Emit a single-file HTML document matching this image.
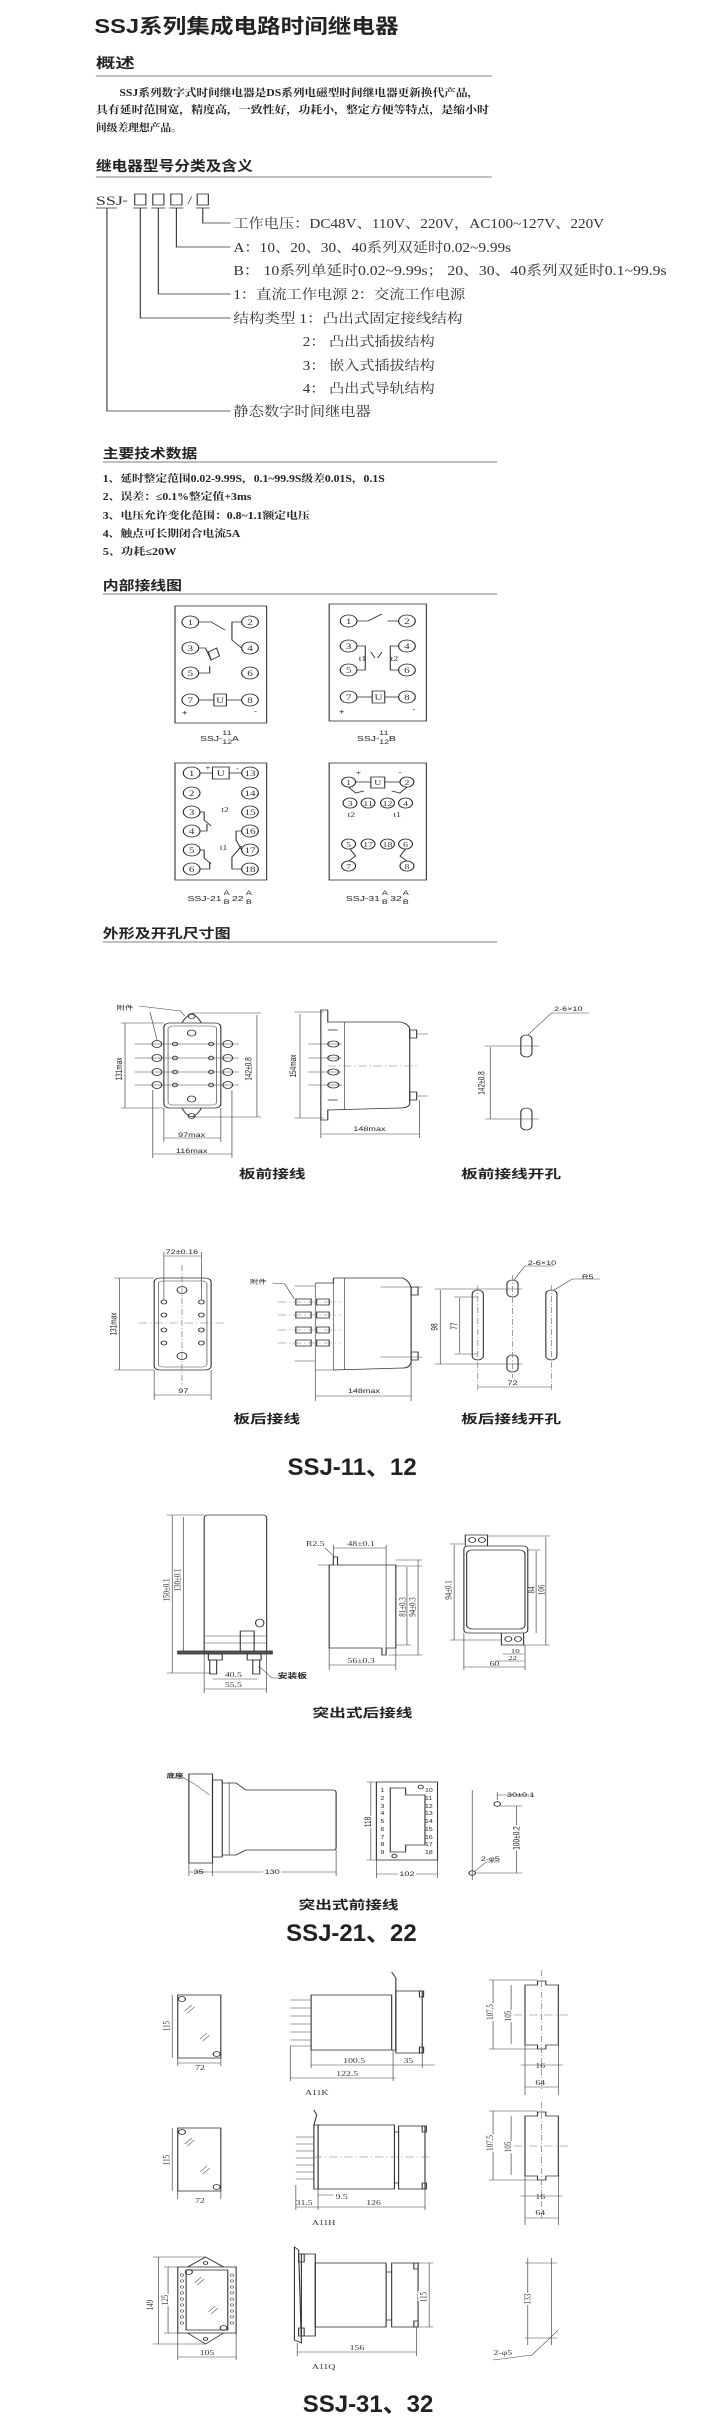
<!DOCTYPE html>
<html><head><meta charset="utf-8"><style>
html,body{margin:0;padding:0;background:#fff;}
svg{display:block;}
.h{font-family:"Liberation Sans","Noto Sans CJK SC",sans-serif;font-weight:bold;fill:#222;}
.s{font-family:"Liberation Serif","Noto Serif CJK SC",serif;fill:#333;}
.sb{font-family:"Liberation Serif","Noto Serif CJK SC",serif;font-weight:bold;fill:#222;}
.d{font-family:"Liberation Sans","Noto Sans CJK SC",sans-serif;fill:#222;}
.ln{stroke:#333;stroke-width:0.8;fill:none;}
.lt{stroke:#444;stroke-width:0.5;fill:none;}
.c{stroke:#222;stroke-width:0.8;fill:#fff;}
.cd{stroke:#777;stroke-width:0.5;fill:none;stroke-dasharray:6 2 1 2;}
</style></head><body>
<svg width="720" height="2433" viewBox="0 0 518.4 2433" preserveAspectRatio="none" xmlns="http://www.w3.org/2000/svg">
<!-- Title -->
<text class="h" x="68" y="33" font-size="20" textLength="219" lengthAdjust="spacingAndGlyphs">SSJ系列集成电路时间继电器</text>

<!-- 概述 -->
<text class="h" x="69" y="68" font-size="14">概述</text>
<line x1="69" y1="76" x2="354" y2="76" stroke="#999" stroke-width="1.2"/>
<text class="sb" x="86" y="96" font-size="10.5" textLength="259" lengthAdjust="spacingAndGlyphs">SSJ系列数字式时间继电器是DS系列电磁型时间继电器更新换代产品，</text>
<text class="sb" x="69" y="113" font-size="10.5" textLength="283" lengthAdjust="spacingAndGlyphs">具有延时范围宽，精度高，一致性好，功耗小，整定方便等特点，是缩小时</text>
<text class="sb" x="69" y="131" font-size="10.5" textLength="62" lengthAdjust="spacingAndGlyphs">间级差理想产品。</text>

<!-- 型号 -->
<text class="h" x="69" y="171" font-size="14" textLength="113" lengthAdjust="spacingAndGlyphs">继电器型号分类及含义</text>
<line x1="69" y1="177" x2="354" y2="177" stroke="#999" stroke-width="1.2"/>
<text class="s" x="69" y="205" font-size="13">SSJ</text>
<text class="s" x="88" y="204" font-size="12">-</text>
<g class="ln">
<rect x="97" y="194" width="8" height="11"/><rect x="110" y="194" width="8" height="11"/><rect x="123" y="194" width="8" height="11"/><rect x="142" y="194" width="8" height="11"/>
<line x1="69" y1="208" x2="84" y2="208"/><line x1="96" y1="208" x2="106" y2="208"/><line x1="109" y1="208" x2="119" y2="208"/><line x1="122" y1="208" x2="132" y2="208"/><line x1="141" y1="208" x2="151" y2="208"/>
<polyline points="77,208 77,411 166,411"/>
<polyline points="101,208 101,318 166,318"/>
<polyline points="114,208 114,294 166,294"/>
<polyline points="127,208 127,247 166,247"/>
<polyline points="146,208 146,223 166,223"/>
</g>
<text class="s" x="135" y="204" font-size="12">/</text>
<g class="s" font-size="13.5">
<text x="168" y="228" textLength="267" lengthAdjust="spacingAndGlyphs">工作电压：DC48V、110V、220V，AC100~127V、220V</text>
<text x="168" y="252" textLength="200" lengthAdjust="spacingAndGlyphs">A：10、20、30、40系列双延时0.02~9.99s</text>
<text x="168" y="275" textLength="312" lengthAdjust="spacingAndGlyphs">B： 10系列单延时0.02~9.99s； 20、30、40系列双延时0.1~99.9s</text>
<text x="168" y="299" textLength="167" lengthAdjust="spacingAndGlyphs">1：直流工作电源 2：交流工作电源</text>
<text x="168" y="323" textLength="165" lengthAdjust="spacingAndGlyphs">结构类型 1：凸出式固定接线结构</text>
<text x="218" y="346" textLength="95" lengthAdjust="spacingAndGlyphs">2： 凸出式插拔结构</text>
<text x="218" y="370" textLength="95" lengthAdjust="spacingAndGlyphs">3： 嵌入式插拔结构</text>
<text x="218" y="393" textLength="95" lengthAdjust="spacingAndGlyphs">4： 凸出式导轨结构</text>
<text x="168" y="416" textLength="99" lengthAdjust="spacingAndGlyphs">静态数字时间继电器</text>
</g>

<!-- 主要技术数据 -->
<text class="h" x="74" y="458" font-size="13" textLength="68" lengthAdjust="spacingAndGlyphs">主要技术数据</text>
<line x1="74" y1="462" x2="358" y2="462" stroke="#999" stroke-width="1.2"/>
<g class="sb" font-size="10">
<text x="74" y="482" textLength="203" lengthAdjust="spacingAndGlyphs">1、延时整定范围0.02-9.99S，0.1~99.9S级差0.01S，0.1S</text>
<text x="74" y="500" textLength="107" lengthAdjust="spacingAndGlyphs">2、误差：≤0.1%整定值+3ms</text>
<text x="74" y="519" textLength="149" lengthAdjust="spacingAndGlyphs">3、电压允许变化范围：0.8~1.1额定电压</text>
<text x="74" y="537" textLength="99" lengthAdjust="spacingAndGlyphs">4、触点可长期闭合电流5A</text>
<text x="74" y="555" textLength="53" lengthAdjust="spacingAndGlyphs">5、功耗≤20W</text>
</g>

<!-- 内部接线图 -->
<text class="h" x="74" y="590" font-size="13" textLength="57" lengthAdjust="spacingAndGlyphs">内部接线图</text>
<line x1="74" y1="594" x2="358" y2="594" stroke="#999" stroke-width="1.2"/>

<!-- Box1 -->
<g>
<rect x="126" y="606" width="66" height="117" class="ln"/>
<g class="ln">
<polyline points="143,622 152,622 162,630"/>
<polyline points="174,622 167,622 167,640 174,648"/>
<polyline points="143,648 148,648 152,660"/>
<path d="M150,652 l6,-4 l2,8 l-6,4z"/>
<polyline points="143,673 151,673 151,666"/>
<line x1="143" y1="700" x2="154" y2="700"/><line x1="163" y1="700" x2="174" y2="700"/>
<rect x="154" y="694" width="9" height="12"/>
</g>
<g class="c"><circle cx="137" cy="622" r="6"/><circle cx="180" cy="622" r="6"/><circle cx="137" cy="648" r="6"/><circle cx="180" cy="648" r="6"/><circle cx="137" cy="673" r="6"/><circle cx="180" cy="673" r="6"/><circle cx="137" cy="700" r="6"/><circle cx="180" cy="700" r="6"/></g>
<g class="s" font-size="8" text-anchor="middle"><text x="137" y="625">1</text><text x="180" y="625">2</text><text x="137" y="651">3</text><text x="180" y="651">4</text><text x="137" y="676">5</text><text x="180" y="676">6</text><text x="137" y="703">7</text><text x="180" y="703">8</text><text x="158.5" y="703">U</text></g>
<text class="d" x="133" y="715" font-size="7" text-anchor="middle">+</text><text class="d" x="184" y="714" font-size="7" text-anchor="middle">-</text>
</g>
<text class="d" x="144" y="741" font-size="7.5">SSJ-</text><text class="d" x="160" y="735" font-size="6.5">11</text><text class="d" x="160" y="744" font-size="6.5">12</text><text class="d" x="167" y="741" font-size="7.5">A</text>

<!-- Box2 -->
<g>
<rect x="237" y="604" width="70" height="117" class="ln"/>
<g class="ln">
<polyline points="257,621 265,621 275,614"/>
<line x1="279" y1="621" x2="287" y2="621"/>
<polyline points="257,646 263,646 263,670 257,670"/>
<polyline points="287,646 281,646 281,670 287,670"/>
<path d="M267,652 l3,6 M275,652 l-3,6"/>
<line x1="257" y1="697" x2="268" y2="697"/><line x1="277" y1="697" x2="287" y2="697"/>
<rect x="268" y="691" width="9" height="12"/>
</g>
<g class="c"><circle cx="251" cy="621" r="6"/><circle cx="293" cy="621" r="6"/><circle cx="251" cy="646" r="6"/><circle cx="293" cy="646" r="6"/><circle cx="251" cy="670" r="6"/><circle cx="293" cy="670" r="6"/><circle cx="251" cy="697" r="6"/><circle cx="293" cy="697" r="6"/></g>
<g class="s" font-size="8" text-anchor="middle"><text x="251" y="624">1</text><text x="293" y="624">2</text><text x="251" y="649">3</text><text x="293" y="649">4</text><text x="251" y="673">5</text><text x="293" y="673">6</text><text x="251" y="700">7</text><text x="293" y="700">8</text><text x="272.5" y="700">U</text>
<text x="261" y="661" font-size="7">t1</text><text x="284" y="661" font-size="7">t2</text></g>
<text class="d" x="246" y="714" font-size="7" text-anchor="middle">+</text><text class="d" x="298" y="712" font-size="7" text-anchor="middle">-</text>
</g>
<text class="d" x="257" y="741" font-size="7.5">SSJ-</text><text class="d" x="273" y="735" font-size="6.5">11</text><text class="d" x="273" y="744" font-size="6.5">12</text><text class="d" x="280" y="741" font-size="7.5">B</text>

<!-- Box3 -->
<g>
<rect x="126" y="763" width="66" height="117" class="ln"/>
<g class="ln">
<line x1="144" y1="773" x2="153" y2="773"/><line x1="165" y1="773" x2="174" y2="773"/>
<rect x="153" y="767" width="12" height="12"/>
<polyline points="144,812 147,812 147,820 152,826"/>
<polyline points="144,831 149,831 149,824"/>
<polyline points="144,850 147,850 147,858 152,864"/>
<polyline points="144,869 151,869 151,862"/>
<polyline points="174,831 170,831 170,840 174,850"/>
<polyline points="174,869 167,869 167,857 174,846"/>
</g>
<g class="c">
<circle cx="138" cy="773" r="6"/><circle cx="138" cy="793" r="6"/><circle cx="138" cy="812" r="6"/><circle cx="138" cy="831" r="6"/><circle cx="138" cy="850" r="6"/><circle cx="138" cy="869" r="6"/>
<circle cx="180" cy="773" r="6"/><circle cx="180" cy="793" r="6"/><circle cx="180" cy="812" r="6"/><circle cx="180" cy="831" r="6"/><circle cx="180" cy="850" r="6"/><circle cx="180" cy="869" r="6"/></g>
<g class="s" font-size="8" text-anchor="middle">
<text x="138" y="776">1</text><text x="138" y="796">2</text><text x="138" y="815">3</text><text x="138" y="834">4</text><text x="138" y="853">5</text><text x="138" y="872">6</text>
<text x="180" y="776">13</text><text x="180" y="796">14</text><text x="180" y="815">15</text><text x="180" y="834">16</text><text x="180" y="853">17</text><text x="180" y="872">18</text>
<text x="159" y="776">U</text><text x="162" y="812" font-size="7">t2</text><text x="161" y="850" font-size="7">t1</text></g>
<text class="d" x="148" y="770" font-size="6">+</text><text class="d" x="170" y="770" font-size="6">-</text>
</g>
<text class="d" x="135" y="901" font-size="7.5">SSJ-21</text><text class="d" x="161" y="895" font-size="6.5">A</text><text class="d" x="161" y="904" font-size="6.5">B</text><text class="d" x="167" y="901" font-size="7.5">22</text><text class="d" x="177" y="895" font-size="6.5">A</text><text class="d" x="177" y="904" font-size="6.5">B</text>

<!-- Box4 -->
<g>
<rect x="237" y="763" width="70" height="117" class="ln"/>
<g class="ln">
<line x1="256" y1="782" x2="267" y2="782"/><line x1="277" y1="782" x2="288" y2="782"/>
<rect x="267" y="777" width="10" height="11"/>
<polyline points="251,787 256,793 262,791"/><polyline points="293,787 288,793 282,791"/>
<polyline points="252,849 256,856 251,861"/><polyline points="292,849 288,856 293,861"/>
</g>
<g class="c">
<circle cx="251" cy="782" r="5"/><circle cx="293" cy="782" r="5"/>
<circle cx="252" cy="803" r="5"/><circle cx="265" cy="803" r="5"/><circle cx="279" cy="803" r="5"/><circle cx="292" cy="803" r="5"/>
<circle cx="251" cy="844" r="5"/><circle cx="265" cy="844" r="5"/><circle cx="279" cy="844" r="5"/><circle cx="292" cy="844" r="5"/>
<circle cx="251" cy="866" r="5"/><circle cx="293" cy="866" r="5"/></g>
<g class="s" font-size="7" text-anchor="middle">
<text x="251" y="785">1</text><text x="293" y="785">2</text><text x="272" y="785">U</text>
<text x="252" y="806">3</text><text x="265" y="806">11</text><text x="279" y="806">12</text><text x="292" y="806">4</text>
<text x="251" y="847">5</text><text x="265" y="847">17</text><text x="279" y="847">18</text><text x="292" y="847">6</text>
<text x="251" y="869">7</text><text x="293" y="869">8</text>
<text x="253" y="817">t2</text><text x="286" y="817">t1</text></g>
<text class="d" x="258" y="775" font-size="6.5" text-anchor="middle">+</text><text class="d" x="288" y="774" font-size="6.5" text-anchor="middle">-</text>
</g>
<text class="d" x="249" y="901" font-size="7.5">SSJ-31</text><text class="d" x="275" y="895" font-size="6.5">A</text><text class="d" x="275" y="904" font-size="6.5">B</text><text class="d" x="281" y="901" font-size="7.5">32</text><text class="d" x="290" y="895" font-size="6.5">A</text><text class="d" x="290" y="904" font-size="6.5">B</text>

<!-- 外形及开孔尺寸图 -->
<text class="h" x="74" y="938" font-size="13" textLength="92" lengthAdjust="spacingAndGlyphs">外形及开孔尺寸图</text>
<line x1="74" y1="942" x2="358" y2="942" stroke="#999" stroke-width="1.2"/>

<!-- 板前接线 front -->
<g class="ln">
<path d="M131,1023 Q138,1006 145,1023 M131,1108 Q138,1125 145,1108"/>
<circle cx="138" cy="1016" r="2.5"/><circle cx="138" cy="1116" r="2.5"/>
<rect x="118" y="1023" width="41" height="85" rx="4"/>
<rect x="121" y="1026" width="35" height="79" rx="3" class="lt"/>
<circle cx="138" cy="1033" r="3"/><circle cx="138" cy="1099" r="3"/>
<g class="lt">
<line x1="97" y1="1044" x2="172" y2="1044"/><line x1="97" y1="1058" x2="172" y2="1058"/><line x1="97" y1="1072" x2="172" y2="1072"/><line x1="97" y1="1085" x2="172" y2="1085"/>
</g>
<circle cx="113" cy="1044" r="3.5"/><circle cx="113" cy="1058" r="3.5"/><circle cx="113" cy="1072" r="3.5"/><circle cx="113" cy="1085" r="3.5"/>
<circle cx="164" cy="1044" r="3.5"/><circle cx="164" cy="1058" r="3.5"/><circle cx="164" cy="1072" r="3.5"/><circle cx="164" cy="1085" r="3.5"/>
<circle cx="126" cy="1044" r="1.8"/><circle cx="126" cy="1058" r="1.8"/><circle cx="126" cy="1072" r="1.8"/><circle cx="126" cy="1085" r="1.8"/>
<circle cx="152" cy="1044" r="1.8"/><circle cx="152" cy="1058" r="1.8"/><circle cx="152" cy="1072" r="1.8"/><circle cx="152" cy="1085" r="1.8"/>
<g class="lt">
<line x1="90" y1="1023" x2="90" y2="1108"/><line x1="87" y1="1023" x2="118" y2="1023"/><line x1="87" y1="1108" x2="118" y2="1108"/>
<line x1="185" y1="1015" x2="185" y2="1117"/><line x1="138" y1="1013" x2="188" y2="1013"/><line x1="138" y1="1117" x2="188" y2="1117"/>
<line x1="118" y1="1108" x2="118" y2="1142"/><line x1="159" y1="1108" x2="159" y2="1142"/><line x1="118" y1="1138" x2="159" y2="1138"/>
<line x1="110" y1="1090" x2="110" y2="1158"/><line x1="167" y1="1090" x2="167" y2="1158"/><line x1="110" y1="1154" x2="167" y2="1154"/>
<polyline points="108,1012 113,1040"/><polyline points="100,1006 130,1011 133,1016"/>
</g></g>
<text class="d" x="84" y="1010" font-size="6">附件</text>
<text class="d" font-size="6.5" transform="translate(88,1069) rotate(-90)" text-anchor="middle">131max</text>
<text class="d" font-size="6.5" transform="translate(181,1069) rotate(-90)" text-anchor="middle">142±0.8</text>
<text class="d" x="138" y="1137" font-size="6.5" text-anchor="middle">97max</text>
<text class="d" x="138" y="1153" font-size="6.5" text-anchor="middle">116max</text>

<!-- 板前 side -->
<g class="ln">
<path d="M231,1010 L236,1010 L236,1022 L288,1022 Q295,1024 295,1030 L295,1104 Q294,1108 288,1108 L236,1110 L236,1120 L231,1120 Z"/>
<line x1="236" y1="1030" x2="243" y2="1030"/><line x1="236" y1="1100" x2="243" y2="1100"/>
<line x1="248" y1="1022" x2="248" y2="1110" class="lt"/>
<rect x="295" y="1030" width="5" height="8"/><rect x="295" y="1092" width="5" height="8"/>
<g class="lt"><line x1="222" y1="1044" x2="246" y2="1044"/><line x1="222" y1="1058" x2="246" y2="1058"/><line x1="222" y1="1072" x2="246" y2="1072"/><line x1="222" y1="1085" x2="246" y2="1085"/>
<line x1="300" y1="1034" x2="308" y2="1034"/><line x1="300" y1="1096" x2="308" y2="1096"/>
<line class="cd" x1="236" y1="1066" x2="300" y2="1066"/>
<line x1="216" y1="1014" x2="216" y2="1118"/><line x1="212" y1="1012" x2="233" y2="1012"/><line x1="212" y1="1118" x2="233" y2="1118"/>
<line x1="231" y1="1120" x2="231" y2="1138"/><line x1="302" y1="1100" x2="302" y2="1138"/><line x1="231" y1="1134" x2="302" y2="1134"/></g>
<ellipse cx="240" cy="1044" rx="4" ry="3"/><ellipse cx="240" cy="1058" rx="4" ry="3"/><ellipse cx="240" cy="1072" rx="4" ry="3"/><ellipse cx="240" cy="1085" rx="4" ry="3"/>
</g>
<text class="d" font-size="6.5" transform="translate(213,1066) rotate(-90)" text-anchor="middle">154max</text>
<text class="d" x="266" y="1131" font-size="6.5" text-anchor="middle">148max</text>

<!-- 板前 cutout -->
<g class="ln">
<rect x="375" y="1035" width="8" height="22" rx="4"/><rect x="375" y="1108" width="8" height="22" rx="4"/>
<g class="lt"><line x1="353" y1="1047" x2="353" y2="1119"/><line x1="349" y1="1046" x2="388" y2="1046"/><line x1="349" y1="1119" x2="388" y2="1119"/>
<polyline points="380,1035 397,1013 424,1013"/></g></g>
<text class="d" x="399" y="1011" font-size="6.5">2-6×10</text>
<text class="d" font-size="6.5" transform="translate(349,1083) rotate(-90)" text-anchor="middle">142±0.8</text>
<text class="h" x="196" y="1178" font-size="12" text-anchor="middle">板前接线</text>
<text class="h" x="368" y="1178" font-size="12" text-anchor="middle">板前接线开孔</text>

<!-- 板后 front -->
<g class="ln">
<rect x="111" y="1278" width="41" height="92" rx="4"/>
<rect x="114" y="1281" width="35" height="86" rx="3" class="lt"/>
<circle cx="131" cy="1290" r="3.5"/><circle cx="131" cy="1356" r="3.5"/>
<circle cx="118" cy="1302" r="2"/><circle cx="118" cy="1315" r="2"/><circle cx="118" cy="1330" r="2"/><circle cx="118" cy="1343" r="2"/>
<circle cx="145" cy="1302" r="2"/><circle cx="145" cy="1315" r="2"/><circle cx="145" cy="1330" r="2"/><circle cx="145" cy="1343" r="2"/>
<g class="lt"><line class="cd" x1="100" y1="1323" x2="162" y2="1323"/><line class="cd" x1="131" y1="1265" x2="131" y2="1385"/>
<line x1="86" y1="1278" x2="86" y2="1370"/><line x1="82" y1="1278" x2="111" y2="1278"/><line x1="82" y1="1370" x2="111" y2="1370"/>
<line x1="118" y1="1256" x2="145" y2="1256"/><line x1="118" y1="1252" x2="118" y2="1300"/><line x1="145" y1="1252" x2="145" y2="1300"/>
<line x1="111" y1="1395" x2="152" y2="1395"/><line x1="111" y1="1370" x2="111" y2="1400"/><line x1="152" y1="1370" x2="152" y2="1400"/></g></g>
<text class="d" x="131" y="1254" font-size="6.5" text-anchor="middle">72±0.16</text>
<text class="d" font-size="6.5" transform="translate(84,1324) rotate(-90)" text-anchor="middle">131max</text>
<text class="d" x="132" y="1393" font-size="6.5" text-anchor="middle">97</text>

<!-- 板后 side -->
<g class="ln">
<path d="M240,1278 L240,1283 L227,1283 M240,1278 L290,1278 Q296,1282 296,1290 L296,1362 Q295,1368 290,1368 L240,1370"/>
<path d="M240,1278 L240,1370 M227,1370 L240,1370 M227,1283 L227,1370" class="lt"/>
<line x1="248" y1="1278" x2="248" y2="1370" class="lt"/>
<rect x="296" y="1287" width="5" height="8"/><rect x="296" y="1352" width="5" height="8"/>
<rect x="213" y="1299" width="11" height="6"/><rect x="213" y="1312" width="11" height="6"/><rect x="213" y="1327" width="11" height="6"/><rect x="213" y="1340" width="11" height="6"/>
<rect x="228" y="1299" width="9" height="6"/><rect x="228" y="1312" width="9" height="6"/><rect x="228" y="1327" width="9" height="6"/><rect x="228" y="1340" width="9" height="6"/>
<g class="lt"><line class="cd" x1="200" y1="1302" x2="245" y2="1302"/><line class="cd" x1="200" y1="1315" x2="245" y2="1315"/><line class="cd" x1="200" y1="1330" x2="245" y2="1330"/><line class="cd" x1="200" y1="1343" x2="245" y2="1343"/>
<line x1="212" y1="1286" x2="227" y2="1286"/><line x1="212" y1="1361" x2="227" y2="1361"/>
<line x1="274" y1="1287" x2="304" y2="1287"/><line x1="274" y1="1357" x2="304" y2="1357"/>
<polyline points="196,1283 205,1284 212,1299"/>
<line x1="227" y1="1396" x2="296" y2="1396"/><line x1="227" y1="1370" x2="227" y2="1401"/><line x1="296" y1="1362" x2="296" y2="1401"/></g></g>
<text class="d" x="180" y="1284" font-size="6">附件</text>
<text class="d" x="262" y="1393" font-size="6.5" text-anchor="middle">148max</text>

<!-- 板后 cutout -->
<g class="ln">
<rect x="340" y="1290" width="8" height="70" rx="4"/><rect x="393" y="1290" width="8" height="70" rx="4"/>
<rect x="365" y="1280" width="8" height="17" rx="4"/><rect x="365" y="1355" width="8" height="17" rx="4"/>
<g class="lt"><line x1="317" y1="1290" x2="317" y2="1364"/><line x1="313" y1="1289" x2="376" y2="1289"/><line x1="313" y1="1364" x2="376" y2="1364"/>
<line x1="331" y1="1298" x2="331" y2="1353"/><line x1="327" y1="1297" x2="344" y2="1297"/><line x1="327" y1="1354" x2="344" y2="1354"/>
<line class="cd" x1="369" y1="1275" x2="369" y2="1378"/><line class="cd" x1="397" y1="1285" x2="397" y2="1390"/><line class="cd" x1="344" y1="1285" x2="344" y2="1390"/>
<line x1="344" y1="1387" x2="397" y2="1387"/>
<polyline points="370,1280 378,1266 399,1266"/><polyline points="399,1290 412,1279 432,1279"/></g></g>
<text class="d" x="380" y="1265" font-size="6.5">2-6×10</text>
<text class="d" x="419" y="1279" font-size="6.5">R5</text>
<text class="d" font-size="6.5" transform="translate(315,1327) rotate(-90)" text-anchor="middle">98</text>
<text class="d" font-size="6.5" transform="translate(329,1326) rotate(-90)" text-anchor="middle">77</text>
<text class="d" x="369" y="1385" font-size="6.5" text-anchor="middle">72</text>
<text class="h" x="192" y="1423" font-size="12" text-anchor="middle">板后接线</text>
<text class="h" x="368" y="1423" font-size="12" text-anchor="middle">板后接线开孔</text>

<text class="h" x="207" y="1475" font-size="24" textLength="93" lengthAdjust="spacingAndGlyphs">SSJ-11、12</text>

<!-- 突出式后接线 -->
<g class="ln">
<path d="M147,1652 L147,1518 Q147,1515 150,1515 L189,1515 Q192,1515 192,1518 L192,1652"/>
<line x1="147" y1="1636" x2="192" y2="1636" class="lt"/><line x1="147" y1="1643" x2="192" y2="1643" class="lt"/>
<rect x="173" y="1631" width="10" height="21"/><ellipse cx="187" cy="1623" rx="3" ry="4"/>
<rect x="128" y="1651" width="68" height="3" fill="#555"/>
<rect x="150" y="1654" width="10" height="6"/><rect x="178" y="1654" width="10" height="6"/>
<rect x="151" y="1660" width="5" height="14"/><rect x="182" y="1660" width="5" height="14"/>
<g class="lt"><line x1="124" y1="1515" x2="124" y2="1673"/><line x1="120" y1="1515" x2="147" y2="1515"/><line x1="120" y1="1673" x2="152" y2="1673"/>
<line x1="132" y1="1517" x2="132" y2="1651"/>
<line x1="153" y1="1679" x2="185" y2="1679"/><line x1="147" y1="1689" x2="192" y2="1689"/><line x1="147" y1="1652" x2="147" y2="1693"/><line x1="192" y1="1652" x2="192" y2="1693"/>
<polyline points="186,1666 196,1678 208,1678"/></g></g>
<text class="s" font-size="7" transform="translate(122,1590) rotate(-90)" text-anchor="middle">150±0.1</text>
<text class="s" font-size="7" transform="translate(130,1580) rotate(-90)" text-anchor="middle">130±0.1</text>
<text class="s" x="168" y="1677" font-size="7" text-anchor="middle">40.5</text>
<text class="s" x="168" y="1687" font-size="7" text-anchor="middle">55.5</text>
<text class="h" x="200" y="1678" font-size="7">安装板</text>

<g class="ln">
<path d="M237,1648 L237,1565 L240,1565 L240,1557 L243,1557 L243,1565 L285,1565 L285,1648 L278,1648 L278,1655 L275,1655 L275,1648 Z"/>
<g class="lt"><line x1="229" y1="1565" x2="248" y2="1565"/><line x1="240" y1="1548" x2="278" y2="1548"/><line x1="240" y1="1545" x2="240" y2="1557"/><line x1="278" y1="1545" x2="278" y2="1648"/>
<line x1="237" y1="1665" x2="285" y2="1665"/><line x1="237" y1="1648" x2="237" y2="1670"/><line x1="285" y1="1648" x2="285" y2="1670"/>
<line x1="293" y1="1567" x2="293" y2="1645"/><line x1="301" y1="1560" x2="301" y2="1655"/><line x1="285" y1="1566" x2="304" y2="1566"/><line x1="285" y1="1560" x2="304" y2="1560"/><line x1="280" y1="1655" x2="304" y2="1655"/><line x1="285" y1="1645" x2="296" y2="1645"/>
<polyline points="234,1548 241,1557"/></g></g>
<text class="s" x="227" y="1546" font-size="7" text-anchor="middle">R2.5</text>
<text class="s" x="260" y="1546" font-size="7" text-anchor="middle">48±0.1</text>
<text class="s" x="260" y="1663" font-size="7" text-anchor="middle">56±0.3</text>
<text class="s" font-size="7" transform="translate(292,1607) rotate(-90)" text-anchor="middle">81±0.3</text>
<text class="s" font-size="7" transform="translate(299,1607) rotate(-90)" text-anchor="middle">94±0.3</text>

<g class="ln">
<path d="M335,1546 L335,1535 L351,1535 L351,1546"/><circle cx="340" cy="1540" r="2.5"/><circle cx="347" cy="1540" r="2.5"/>
<path d="M361,1633 L361,1645 L377,1645 L377,1633"/><circle cx="366" cy="1639" r="2.5"/><circle cx="373" cy="1639" r="2.5"/>
<rect x="334" y="1546" width="46" height="87" rx="3"/>
<rect x="336" y="1550" width="42" height="79" rx="4"/>
<g class="lt"><line x1="327" y1="1545" x2="327" y2="1640"/><line x1="324" y1="1544" x2="334" y2="1544"/><line x1="324" y1="1640" x2="361" y2="1640"/>
<line x1="386" y1="1551" x2="386" y2="1633"/><line x1="393" y1="1537" x2="393" y2="1645"/><line x1="380" y1="1550" x2="389" y2="1550"/><line x1="351" y1="1536" x2="396" y2="1536"/><line x1="377" y1="1645" x2="396" y2="1645"/>
<line x1="334" y1="1633" x2="334" y2="1670"/><line x1="334" y1="1667" x2="378" y2="1667"/><line x1="378" y1="1645" x2="378" y2="1670"/>
<line x1="362" y1="1654" x2="377" y2="1654"/><line x1="357" y1="1661" x2="377" y2="1661"/></g></g>
<text class="s" font-size="7" transform="translate(325,1590) rotate(-90)" text-anchor="middle">94±0.1</text>
<text class="s" font-size="7" transform="translate(385,1590) rotate(-90)" text-anchor="middle">84</text>
<text class="s" font-size="7" transform="translate(392,1590) rotate(-90)" text-anchor="middle">106</text>
<text class="s" x="371" y="1653" font-size="6.5" text-anchor="middle">10</text>
<text class="s" x="369" y="1660" font-size="6.5" text-anchor="middle">22</text>
<text class="s" x="356" y="1666" font-size="7" text-anchor="middle">60</text>
<text class="h" x="261" y="1717" font-size="12" text-anchor="middle">突出式后接线</text>

<!-- 突出式前接线 -->
<g class="ln">
<rect x="136" y="1774" width="17" height="89"/>
<rect x="153" y="1780" width="7" height="77"/>
<path d="M160,1783 L170,1783 L177,1790 L240,1790 Q242,1790 242,1793 L242,1848 Q242,1850 240,1850 L177,1850 L170,1855 L160,1855"/>
<line x1="165" y1="1783" x2="165" y2="1855" class="lt"/>
<g class="lt"><polyline points="130,1776 140,1784 151,1795"/>
<line x1="136" y1="1872" x2="242" y2="1872"/><line x1="136" y1="1863" x2="136" y2="1876"/><line x1="153" y1="1863" x2="153" y2="1876"/><line x1="242" y1="1850" x2="242" y2="1876"/></g>
<rect x="271" y="1782" width="44" height="78"/>
<path d="M281,1788 L292,1788 L292,1795 L306,1795 L306,1845 L292,1845 L292,1852 L281,1852 Z"/>
<circle cx="303" cy="1787" r="1.8"/><circle cx="284" cy="1856" r="1.8"/>
<g class="lt"><line x1="267" y1="1782" x2="267" y2="1860"/><line x1="264" y1="1782" x2="271" y2="1782"/><line x1="264" y1="1860" x2="271" y2="1860"/>
<line x1="271" y1="1874" x2="315" y2="1874"/><line x1="271" y1="1860" x2="271" y2="1878"/><line x1="315" y1="1860" x2="315" y2="1878"/></g>
<circle cx="358" cy="1804" r="2.3"/><circle cx="340" cy="1873" r="2.3"/>
<g class="lt"><line x1="340" y1="1790" x2="340" y2="1880"/><line x1="358" y1="1792" x2="358" y2="1800"/><line x1="358" y1="1795" x2="384" y2="1795"/>
<line x1="372" y1="1806" x2="372" y2="1873"/><line x1="360" y1="1806" x2="376" y2="1806"/><line x1="343" y1="1873" x2="376" y2="1873"/><polyline points="342,1871 350,1862 360,1862"/></g></g>
<text class="h" x="120" y="1778" font-size="6">底座</text>
<text class="d" x="143" y="1874" font-size="6.5" text-anchor="middle">35</text>
<text class="d" x="196" y="1874" font-size="6.5" text-anchor="middle" style="paint-order:stroke" stroke="#fff" stroke-width="3">130</text>
<text class="d" x="293" y="1876" font-size="6.5" text-anchor="middle" style="paint-order:stroke" stroke="#fff" stroke-width="3">102</text>
<text class="d" font-size="6.5" transform="translate(267,1822) rotate(-90)" text-anchor="middle" style="paint-order:stroke" stroke="#fff" stroke-width="3">118</text>
<text class="d" font-size="6.5" transform="translate(374,1838) rotate(-90)" text-anchor="middle" style="paint-order:stroke" stroke="#fff" stroke-width="3">100±0.2</text>
<text class="d" x="375" y="1797" font-size="6.5" text-anchor="middle">30±0.1</text>
<text class="d" x="353" y="1861" font-size="6.5" text-anchor="middle">2-φ5</text>
<g class="d" font-size="5">
<text x="274" y="1792">1</text><text x="274" y="1800">2</text><text x="274" y="1808">3</text><text x="274" y="1815">4</text><text x="274" y="1823">5</text><text x="274" y="1831">6</text><text x="274" y="1839">7</text><text x="274" y="1846">8</text><text x="274" y="1854">9</text>
<text x="306" y="1792">10</text><text x="306" y="1800">11</text><text x="306" y="1808">12</text><text x="306" y="1815">13</text><text x="306" y="1823">14</text><text x="306" y="1831">15</text><text x="306" y="1839">16</text><text x="306" y="1846">17</text><text x="306" y="1854">18</text></g>
<text class="h" x="251" y="1909" font-size="12" text-anchor="middle">突出式前接线</text>
<text class="h" x="206" y="1941" font-size="24" textLength="94" lengthAdjust="spacingAndGlyphs">SSJ-21、22</text>

<!-- SSJ-31/32 row1 -->
<g class="ln">
<rect x="128" y="1995" width="31" height="63"/><circle cx="131" cy="1999" r="2.5"/><circle cx="156" cy="2054" r="2.5"/>
<path d="M133,2011 l5,-6 M135,2013 l5,-6 M144,2039 l5,-6 M146,2041 l5,-6" class="lt"/>
<g class="lt"><line x1="124" y1="1995" x2="124" y2="2058"/><line x1="128" y1="2063" x2="159" y2="2063"/><line x1="128" y1="2058" x2="128" y2="2066"/><line x1="159" y1="2058" x2="159" y2="2066"/></g>
<rect x="224" y="1995" width="58" height="55"/>
<path d="M282,1972 L285,1978 L285,2050 L282,2050"/>
<rect x="285" y="1991" width="19" height="62"/><rect x="302" y="1991" width="3" height="6"/><rect x="302" y="2047" width="3" height="6"/>
<g class="lt"><line x1="209" y1="2000" x2="224" y2="2000"/><line x1="209" y1="2008" x2="224" y2="2008"/><line x1="209" y1="2016" x2="224" y2="2016"/><line x1="209" y1="2024" x2="224" y2="2024"/><line x1="209" y1="2032" x2="224" y2="2032"/><line x1="209" y1="2040" x2="224" y2="2040"/><line x1="209" y1="2046" x2="224" y2="2046"/>
<line x1="224" y1="2065" x2="313" y2="2065"/><line x1="209" y1="2078" x2="285" y2="2078"/><line x1="224" y1="2050" x2="224" y2="2068"/><line x1="283" y1="2050" x2="283" y2="2081"/><line x1="209" y1="2046" x2="209" y2="2081"/><line x1="304" y1="2053" x2="304" y2="2068"/></g>
<path d="M378,1985 L387,1985 L387,1981 L393,1981 L393,1985 L402,1985 L402,2045 L393,2045 L393,2049 L387,2049 L387,2045 L378,2045 Z"/>
<g class="lt"><line x1="355" y1="1980" x2="355" y2="2049"/><line x1="352" y1="1980" x2="387" y2="1980"/><line x1="352" y1="2049" x2="387" y2="2049"/><line x1="368" y1="1985" x2="368" y2="2044"/>
<line class="cd" x1="390" y1="1970" x2="390" y2="2090"/><line class="cd" x1="370" y1="2015" x2="410" y2="2015"/>
<line x1="375" y1="2065" x2="405" y2="2065"/><line x1="378" y1="2087" x2="402" y2="2087"/><line x1="378" y1="2045" x2="378" y2="2095"/><line x1="402" y1="2045" x2="402" y2="2095"/></g></g>
<g class="s" font-size="7">
<text transform="translate(122,2026) rotate(-90)" text-anchor="middle">115</text><text x="144" y="2070" text-anchor="middle">72</text>
<text x="255" y="2063" text-anchor="middle">100.5</text><text x="294" y="2063" text-anchor="middle">35</text><text x="250" y="2076" text-anchor="middle">122.5</text><text x="228" y="2095" text-anchor="middle">A11K</text>
<text transform="translate(355,2012) rotate(-90)" text-anchor="middle" style="paint-order:stroke" stroke="#fff" stroke-width="3">107.5</text><text transform="translate(368,2016) rotate(-90)" text-anchor="middle" style="paint-order:stroke" stroke="#fff" stroke-width="3">105</text>
<text x="389" y="2068" text-anchor="middle">16</text><text x="389" y="2085" text-anchor="middle">64</text></g>

<!-- row2 -->
<g class="ln">
<rect x="128" y="2128" width="31" height="63"/><circle cx="131" cy="2132" r="2.5"/><circle cx="156" cy="2187" r="2.5"/>
<path d="M133,2144 l5,-6 M135,2146 l5,-6 M144,2172 l5,-6 M146,2174 l5,-6" class="lt"/>
<g class="lt"><line x1="124" y1="2128" x2="124" y2="2191"/><line x1="128" y1="2191" x2="128" y2="2199"/><line x1="159" y1="2191" x2="159" y2="2199"/></g>
<path d="M226,2110 L228,2115 L226,2125"/>
<rect x="226" y="2125" width="3" height="64"/>
<rect x="229" y="2125" width="55" height="64"/>
<rect x="287" y="2126" width="19" height="63"/><rect x="304" y="2126" width="3" height="6"/><rect x="304" y="2183" width="3" height="6"/>
<line x1="284" y1="2132" x2="287" y2="2132"/><line x1="284" y1="2183" x2="287" y2="2183"/>
<g class="lt"><line x1="213" y1="2137" x2="226" y2="2137"/><line x1="213" y1="2144" x2="226" y2="2144"/><line x1="213" y1="2151" x2="226" y2="2151"/><line x1="213" y1="2158" x2="226" y2="2158"/><line x1="213" y1="2165" x2="226" y2="2165"/><line x1="213" y1="2172" x2="226" y2="2172"/><line x1="213" y1="2179" x2="226" y2="2179"/>
<line class="cd" x1="226" y1="2157" x2="310" y2="2157"/>
<line x1="213" y1="2185" x2="213" y2="2210"/><line x1="229" y1="2189" x2="229" y2="2210"/><line x1="306" y1="2189" x2="306" y2="2210"/>
<line x1="229" y1="2195" x2="240" y2="2195"/><line x1="213" y1="2207" x2="306" y2="2207"/></g>
<path d="M378,2116 L387,2116 L387,2112 L393,2112 L393,2116 L402,2116 L402,2176 L393,2176 L393,2180 L387,2180 L387,2176 L378,2176 Z"/>
<g class="lt"><line x1="355" y1="2111" x2="355" y2="2180"/><line x1="352" y1="2111" x2="387" y2="2111"/><line x1="352" y1="2180" x2="387" y2="2180"/><line x1="368" y1="2116" x2="368" y2="2175"/>
<line class="cd" x1="390" y1="2102" x2="390" y2="2220"/><line class="cd" x1="370" y1="2146" x2="410" y2="2146"/>
<line x1="375" y1="2196" x2="405" y2="2196"/><line x1="378" y1="2218" x2="402" y2="2218"/><line x1="378" y1="2176" x2="378" y2="2225"/><line x1="402" y1="2176" x2="402" y2="2225"/></g></g>
<g class="s" font-size="7">
<text transform="translate(122,2160) rotate(-90)" text-anchor="middle">115</text><text x="144" y="2203" text-anchor="middle">72</text>
<text x="246" y="2199" text-anchor="middle">9.5</text><text x="219" y="2205" text-anchor="middle">31.5</text><text x="269" y="2205" text-anchor="middle">126</text><text x="233" y="2225" text-anchor="middle">A11H</text>
<text transform="translate(355,2143) rotate(-90)" text-anchor="middle" style="paint-order:stroke" stroke="#fff" stroke-width="3">107.5</text><text transform="translate(368,2147) rotate(-90)" text-anchor="middle" style="paint-order:stroke" stroke="#fff" stroke-width="3">105</text>
<text x="389" y="2199" text-anchor="middle">16</text><text x="389" y="2215" text-anchor="middle">64</text></g>

<!-- row3 -->
<g class="ln">
<path d="M135,2267 L148,2257 L161,2267 M135,2333 L148,2344 L161,2333"/>
<circle cx="148" cy="2263" r="1.5"/><circle cx="148" cy="2339" r="1.5"/>
<rect x="128" y="2267" width="42" height="66"/>
<rect x="134" y="2270" width="30" height="60"/>
<circle cx="136" cy="2272" r="2.5"/><circle cx="161" cy="2328" r="2.5"/>
<g class="lt">
<path d="M140,2283 l5,-6 M142,2285 l5,-6 M150,2312 l5,-6 M152,2314 l5,-6"/>
<circle cx="131" cy="2275" r="1.2"/><circle cx="131" cy="2281" r="1.2"/><circle cx="131" cy="2287" r="1.2"/><circle cx="131" cy="2293" r="1.2"/><circle cx="131" cy="2299" r="1.2"/><circle cx="131" cy="2305" r="1.2"/><circle cx="131" cy="2311" r="1.2"/><circle cx="131" cy="2317" r="1.2"/><circle cx="131" cy="2323" r="1.2"/>
<circle cx="167" cy="2275" r="1.2"/><circle cx="167" cy="2281" r="1.2"/><circle cx="167" cy="2287" r="1.2"/><circle cx="167" cy="2293" r="1.2"/><circle cx="167" cy="2299" r="1.2"/><circle cx="167" cy="2305" r="1.2"/><circle cx="167" cy="2311" r="1.2"/><circle cx="167" cy="2317" r="1.2"/><circle cx="167" cy="2323" r="1.2"/>
<line x1="114" y1="2257" x2="114" y2="2344"/><line x1="110" y1="2257" x2="148" y2="2257"/><line x1="110" y1="2344" x2="148" y2="2344"/>
<line x1="121" y1="2267" x2="121" y2="2333"/><line x1="118" y1="2267" x2="128" y2="2267"/><line x1="118" y1="2333" x2="128" y2="2333"/>
<line x1="128" y1="2357" x2="170" y2="2357"/><line x1="128" y1="2333" x2="128" y2="2360"/><line x1="170" y1="2333" x2="170" y2="2360"/></g>
<path d="M212,2247 L215,2250 L217,2343 L212,2340 Z"/>
<rect x="217" y="2254" width="10" height="82"/><rect x="215" y="2254" width="4" height="8"/><rect x="215" y="2328" width="4" height="8"/>
<rect x="227" y="2263" width="51" height="64"/>
<rect x="282" y="2263" width="19" height="64"/><rect x="298" y="2263" width="3" height="6"/><rect x="298" y="2321" width="3" height="6"/>
<line x1="278" y1="2272" x2="282" y2="2272"/><line x1="278" y1="2320" x2="282" y2="2320"/>
<g class="lt"><line x1="214" y1="2352" x2="300" y2="2352"/><line x1="214" y1="2343" x2="214" y2="2356"/><line x1="300" y1="2327" x2="300" y2="2356"/>
<line x1="309" y1="2263" x2="309" y2="2327"/><line x1="301" y1="2263" x2="312" y2="2263"/><line x1="301" y1="2327" x2="312" y2="2327"/>
<line x1="378" y1="2263" x2="401" y2="2263"/><line x1="378" y1="2338" x2="401" y2="2338"/><line x1="380" y1="2258" x2="380" y2="2345"/><line x1="397" y1="2258" x2="397" y2="2345"/>
<line class="cd" x1="397" y1="2290" x2="397" y2="2310"/>
<polyline points="355,2360 383,2355 402,2330"/></g></g>
<g class="s" font-size="7">
<text transform="translate(110,2305) rotate(-90)" text-anchor="middle">149</text><text transform="translate(121,2300) rotate(-90)" text-anchor="middle" style="paint-order:stroke" stroke="#fff" stroke-width="3">125</text>
<text x="149" y="2355" text-anchor="middle">105</text>
<text x="257" y="2350" text-anchor="middle">156</text>
<text transform="translate(307,2297) rotate(-90)" text-anchor="middle" style="paint-order:stroke" stroke="#fff" stroke-width="3">115</text>
<text x="233" y="2369" text-anchor="middle">A11Q</text>
<text transform="translate(382,2299) rotate(-90)" text-anchor="middle" style="paint-order:stroke" stroke="#fff" stroke-width="3">133</text>
<text x="362" y="2355" text-anchor="middle">2-φ5</text></g>

<text class="h" x="218" y="2412" font-size="24" textLength="94" lengthAdjust="spacingAndGlyphs">SSJ-31、32</text>
</svg>
</body></html>
